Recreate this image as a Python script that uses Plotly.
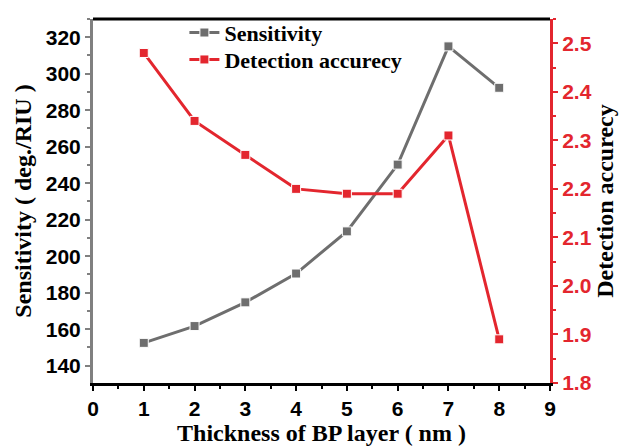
import plotly.graph_objects as go

# BP layer thickness (nm)
thickness = [1, 2, 3, 4, 5, 6, 7, 8]
# Sensitivity (deg./RIU)
sensitivity = [152.5, 161.7, 174.7, 190.5, 213.6, 250.2, 315.0, 292.3]
# Detection accuracy
detection_accuracy = [2.48, 2.34, 2.27, 2.20, 2.19, 2.19, 2.31, 1.89]

x_ticks = [0, 1, 2, 3, 4, 5, 6, 7, 8, 9]
sens_ticks = [140, 160, 180, 200, 220, 240, 260, 280, 300, 320]
da_ticks = [1.8, 1.9, 2.0, 2.1, 2.2, 2.3, 2.4, 2.5]

GRAY = "#6e6e6e"
RED = "#e3262e"
SANS = "Liberation Sans, Arial, sans-serif"
SERIF = "Liberation Serif, Times New Roman, serif"

fig = go.Figure()
fig.add_trace(go.Scatter(
    x=thickness, y=sensitivity, name="Sensitivity", mode="lines+markers",
    line=dict(color=GRAY, width=3),
    marker=dict(symbol="square", size=9, color=GRAY, line=dict(color="white", width=1)),
    yaxis="y", legend="legend",
))
fig.add_trace(go.Scatter(
    x=thickness, y=detection_accuracy, name="Detection accurecy", mode="lines+markers",
    line=dict(color=RED, width=3),
    marker=dict(symbol="square", size=9, color=RED, line=dict(color="white", width=1)),
    yaxis="y2", legend="legend2",
))

legend_font = dict(family=SERIF, size=22, color="black", weight="bold")

fig.update_layout(
    width=627, height=446,
    margin=dict(l=93, r=77, t=16, b=63),
    paper_bgcolor="white", plot_bgcolor="white",
    showlegend=True,
    legend=dict(x=0.2, y=1.02, xanchor="left", yanchor="top",
                bgcolor="rgba(0,0,0,0)", font=legend_font, itemwidth=30),
    legend2=dict(x=0.2, y=0.946, xanchor="left", yanchor="top",
                 bgcolor="rgba(0,0,0,0)", font=legend_font, itemwidth=30),
    xaxis=dict(
        range=[0, 9], tickvals=x_ticks, ticktext=[str(v) for v in x_ticks],
        automargin=False,
        showgrid=False, zeroline=False,
        showline=True, linecolor="black", linewidth=3,
        ticks="outside", ticklen=5, tickwidth=2, tickcolor="black",
        minor=dict(ticks="outside", ticklen=3, tickwidth=2, tickcolor="black", dtick=0.5),
        tickfont=dict(family=SANS, size=21, color="black", weight="bold"),
        title=dict(text="Thickness of BP layer ( nm )", standoff=4,
                   font=dict(family=SERIF, size=24, color="black", weight="bold")),
    ),
    yaxis=dict(
        range=[130.5, 330], tickvals=sens_ticks, ticktext=[str(v) for v in sens_ticks],
        automargin=False,
        showgrid=False, zeroline=False,
        showline=True, linecolor="#808080", linewidth=3,
        ticks="outside", ticklen=5, tickwidth=2, tickcolor="#808080",
        minor=dict(ticks="outside", ticklen=3, tickwidth=2, tickcolor="#808080", dtick=10),
        tickfont=dict(family=SANS, size=21, color="black", weight="bold"),
        title=dict(text="Sensitivity ( deg./RIU )", standoff=8,
                   font=dict(family=SERIF, size=24, color="black", weight="bold")),
    ),
    yaxis2=dict(
        overlaying="y", side="right",
        range=[1.8, 2.55], tickvals=da_ticks, ticktext=[f"{v:.1f}" for v in da_ticks],
        automargin=False,
        showgrid=False, zeroline=False,
        showline=True, linecolor=RED, linewidth=3,
        ticks="outside", ticklen=5, tickwidth=2, tickcolor=RED,
        minor=dict(ticks="outside", ticklen=3, tickwidth=2, tickcolor=RED, dtick=0.05),
        tickfont=dict(family=SANS, size=21, color=RED, weight="bold"),
        title=dict(text="Detection accurecy", standoff=2,
                   font=dict(family=SERIF, size=24, color="black", weight="bold")),
    ),
    shapes=[dict(type="line", xref="paper", yref="paper", x0=0, x1=1, y0=1, y1=1,
                 line=dict(color="black", width=3))],
)

fig.write_html("out.html")
